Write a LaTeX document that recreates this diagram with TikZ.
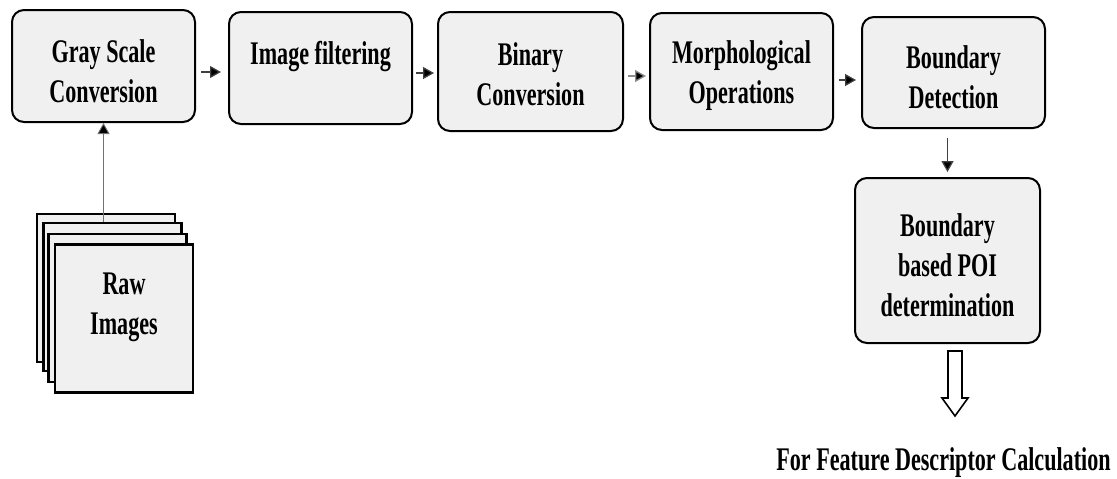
\documentclass[tikz,border=0pt]{standalone}
\usepackage{fontspec}
\setmainfont{Liberation Serif}[FakeStretch=0.67]
\usetikzlibrary{arrows.meta}
\definecolor{boxfill}{HTML}{F0F0F0}
\begin{document}
\begin{tikzpicture}[x=1pt,y=-1pt,
  lbl/.style={font=\fontsize{33}{40}\selectfont\bfseries, align=center, inner sep=0pt},
  stepbox/.style={draw=black, line width=2pt, fill=boxfill, rounded corners=12pt, inner sep=0pt},
  sheet/.style={draw=black, line width=2.5pt, fill=boxfill, inner sep=0pt, minimum width=138pt, minimum height=148pt},
  flow/.style={line width=1.3pt, draw=black!75, -{Triangle[length=11pt,width=12pt,fill=black]}}]
\useasboundingbox (0,0) rectangle (1117,479);

% process boxes
\node[stepbox, minimum width=183pt, minimum height=112pt] (gray) at (103.5,66) {};
\node[stepbox, minimum width=183pt, minimum height=112pt] (filt) at (320.5,68) {};
\node[stepbox, minimum width=185pt, minimum height=119pt] (bin) at (530.5,71.5) {};
\node[stepbox, minimum width=183pt, minimum height=117pt] (morph) at (741.5,71.5) {};
\node[stepbox, minimum width=183pt, minimum height=111pt] (bdet) at (953.5,72.5) {};
\node[stepbox, minimum width=185pt, minimum height=165pt] (poi) at (947.5,260.5) {};

\node[lbl] (grayt) at ([yshift=-5pt]gray.center) {Gray Scale\\Conversion};
\node[lbl] (filtt) at ([yshift=11pt]filt.center) {Image filtering};
\node[lbl] (bint) at ([yshift=-3pt]bin.center) {Binary\\Conversion};
\node[lbl] (morpht) at ([yshift=-4pt]morph.center) {Morphological\\Operations};
\node[lbl] (bdett) at ([yshift=-5pt]bdet.center) {Boundary\\Detection};
\node[lbl] (poit) at ([yshift=-5pt]poi.center) {Boundary\\based POI\\determination};

% raw image stack
\node[sheet] (raw1) at (106,288) {};
\node[sheet] (raw2) at (112.5,297) {};
\node[sheet] (raw3) at (117.5,308) {};
\node[sheet] (raw) at (124,318.5) {};
\node[lbl] (rawt) at ([yshift=11pt]raw.center) {Raw\\Images};

% output text
\node[lbl] (ffd) at (943.5,463) {For Feature Descriptor Calculation};

% connectors
\draw[flow, line width=0.9pt, draw=black!55] (gray.south |- raw2.north) -- (gray.south);
\draw[flow] ([xshift=5pt,yshift=-6pt]gray.east) -- ([xshift=-7pt,yshift=-6pt]gray.east -| filt.west);
\draw[flow] ([xshift=3pt,yshift=-5pt]filt.east) -- ([xshift=-3pt,yshift=-5pt]filt.east -| bin.west);
\draw[flow, draw=black!45] ([xshift=4pt,yshift=-4.5pt]bin.east) -- ([xshift=-3pt,yshift=-4.5pt]bin.east -| morph.west);
\draw[flow] ([xshift=5pt,yshift=-8.5pt]morph.east) -- ([xshift=-5pt,yshift=-8.5pt]morph.east -| bdet.west);
\draw[flow] ([yshift=-9pt]poi.north |- bdet.south) -- ([yshift=5pt]poi.north);

% hollow arrow
\coordinate (hat) at ([xshift=7.5pt,yshift=-7pt]poi.south);
\draw[line width=1.6pt, fill=white] (hat) ++(-7,0) -- ++(14,0) -- ++(0,47) -- ++(6,0) -- ++(-13,18) -- ++(-13,-18) -- ++(6,0) -- cycle;
\end{tikzpicture}
\end{document}
